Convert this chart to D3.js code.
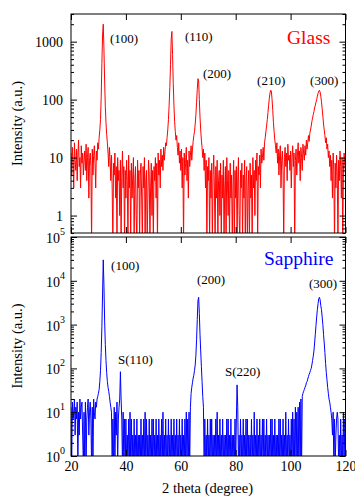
<!DOCTYPE html>
<html><head><meta charset="utf-8">
<script src="https://cdn.jsdelivr.net/npm/d3@7"></script>
<style>body{margin:0;background:#fff} svg{display:block}</style>
</head><body><svg id="c" width="355" height="497"></svg>
<script>
// ---- data ----
const angleStart = 20, angleStep = 0.25;   // 2-theta sampling grid (degrees)
const glassIntensity = [
 12,5,15,8,3,18,9,6,14,4,11,20,7,10,3,16,8,12,5,9,
 13,6,17,4,10,15,2,9,12,7,0,14,5,11,16,8,3,13,9,18,
 14,22,30,45,110,420,1300,2000,750,210,75,40,25,18,12,7,15,9,4,11,
 3,0,8,5,12,2,7,0,10,4,6,1,9,0,5,13,3,7,0,6,
 2,9,4,0,11,3,6,0,8,2,5,10,0,4,7,1,0,9,3,6,
 0,5,8,2,0,7,3,10,0,4,6,0,2,9,5,0,3,8,1,6,
 0,7,4,10,2,8,0,12,5,9,3,14,7,11,6,15,9,13,18,16,
 22,30,45,80,160,400,1100,1500,600,190,80,42,28,20,24,15,11,18,8,13,
 6,14,3,10,0,12,5,8,15,4,9,2,13,7,11,16,9,14,19,24,
 28,38,55,90,150,230,210,100,50,30,20,15,10,14,6,12,3,9,0,7,
 4,10,0,6,2,8,0,5,11,3,0,7,2,9,0,4,6,1,8,0,
 5,2,9,0,3,7,0,10,4,1,6,0,8,2,5,0,3,9,0,6,
 2,7,0,4,10,1,0,6,3,8,0,5,2,9,0,4,7,0,3,6,
 0,8,2,5,0,10,3,6,1,9,4,12,0,7,5,11,3,14,8,10,
 15,9,18,22,28,35,45,60,80,105,130,145,140,100,65,40,28,20,16,12,
 18,8,14,5,11,16,3,9,13,6,0,10,15,7,12,4,17,9,11,6,
 13,3,10,16,7,12,0,9,14,5,11,18,8,13,4,15,10,6,17,12,
 9,16,11,20,14,18,24,19,26,30,35,42,48,55,62,72,80,90,100,115,
 128,140,145,135,115,92,70,52,38,30,24,18,22,14,17,10,13,7,11,4,
 9,2,12,6,0,8,3,11,5,0,9,4,13,7,2,10,0,6,12,8,
 5];
const sapphireIntensity = [
 13,0,17,7,10,20,3,13,7,17,0,10,3,20,7,13,17,3,0,10,
 0,17,0,7,13,20,3,10,17,7,0,13,0,20,10,7,17,13,20,23,
 27,33,50,90,230,900,5000,30000,8000,1200,350,150,80,50,37,30,23,17,13,10,
 0,7,0,13,0,10,3,17,0,7,13,20,84,20,7,0,10,0,7,0,
 7,0,3,0,7,0,10,0,7,0,3,0,7,0,3,0,7,0,3,0,
 3,0,7,0,3,0,7,0,10,0,7,0,3,0,7,0,3,0,7,0,
 7,0,3,0,7,0,3,0,7,0,3,0,7,0,10,0,3,0,7,0,
 3,0,7,0,3,0,7,0,3,0,7,0,3,0,7,0,3,0,7,0,
 3,0,7,0,3,0,7,0,10,0,7,0,10,0,13,27,37,47,60,70,
 90,120,200,450,1300,3500,4200,1800,600,250,110,50,23,13,0,7,0,3,0,7,
 0,3,0,7,0,7,0,3,0,3,0,7,0,10,0,3,0,7,0,3,
 0,7,0,3,0,3,0,7,0,7,0,3,0,7,0,3,0,3,0,7,
 0,7,42,13,0,3,0,7,0,3,0,7,0,3,0,7,0,7,0,3,
 0,3,0,7,0,3,0,10,0,3,0,7,0,3,0,7,0,3,0,7,
 0,7,0,3,0,7,0,3,0,3,0,7,0,7,0,3,0,7,0,3,
 0,3,0,7,0,7,0,3,0,7,0,3,0,10,0,3,0,7,0,3,
 0,7,0,10,0,7,0,13,0,10,0,13,0,17,0,20,0,23,27,30,
 33,37,40,47,50,57,65,73,80,90,100,120,150,190,250,380,600,950,1500,2200,
 3000,3900,4200,3700,2700,2200,1500,1000,600,380,230,130,80,55,37,27,20,17,13,10,
 7,3,10,0,7,0,3,7,10,7,0,3,0,7,0,3,0,10,0,7,
 3];
const xTicks = [20,40,60,80,100,120];
const glassYTicks = [1,10,100,1000];
const sapphireYTicks = [1,10,100,1000,10000,100000];
const glassPeakLabels = ["(100)","(110)","(200)","(210)","(300)"];
const glassPeakAngles = [34.2,61.5,68.1,87.8,107.1];
const glassPeakHeights = [960,1010,240,179,179];
const sapphirePeakLabels = ["(100)","S(110)","(200)","S(220)","(300)"];
const sapphirePeakAngles = [34.6,37.1,65.9,76.1,106.7];
const sapphirePeakHeights = [17650,126,8300,67,6740];

// ---- drawing ----
const svg = d3.select("#c");
const FONT = "Liberation Serif, Times New Roman, serif";
const L = 71, R = 345.5;
const x = d3.scaleLinear().domain([20,120]).range([L,R]);
const panels = [
  {values: glassIntensity, y: d3.scaleLog().domain([0.5,3000]).range([233,14]), top:14, bottom:233,
   color:"#ff0000", ticks: glassYTicks, pow:false, labels: glassPeakLabels, la: glassPeakAngles, lh: glassPeakHeights,
   name:"Glass", nameAngle: 98.7, nameH: 910, id:"clipG", titleY:123.5, xlabels:false},
  {values: sapphireIntensity, y: d3.scaleLog().domain([1,1e5]).range([456,237]), top:237, bottom:456,
   color:"#0000ff", ticks: sapphireYTicks, pow:true, labels: sapphirePeakLabels, la: sapphirePeakAngles, lh: sapphirePeakHeights,
   name:"Sapphire", nameAngle: 90.3, nameH: 23550, id:"clipS", titleY:346, xlabels:true}
];

panels.forEach(p => {
  const g = svg.append("g");
  g.append("clipPath").attr("id", p.id).append("rect")
    .attr("x", L).attr("y", p.top).attr("width", R-L).attr("height", p.bottom-p.top);
  const line = d3.line()
    .x((d,i) => x(angleStart + i*angleStep))
    .y(d => d > 0 ? p.y(d) : p.bottom + 10);
  g.append("path").datum(p.values).attr("clip-path", `url(#${p.id})`)
    .attr("d", line).attr("fill","none").attr("stroke", p.color).attr("stroke-width", 1)
    .attr("stroke-linejoin","round");

  const minor = p.y.ticks().filter(v => Math.abs(Math.log10(v) - Math.round(Math.log10(v))) > 1e-6);
  g.append("g").attr("transform",`translate(${L},0)`)
    .call(d3.axisLeft(p.y).tickValues(minor).tickSize(-3).tickFormat(""))
    .call(a => a.select(".domain").remove());
  g.append("g").attr("transform",`translate(${R},0)`)
    .call(d3.axisRight(p.y).tickValues(minor).tickSize(-3).tickFormat(""))
    .call(a => a.select(".domain").remove());
  const left = g.append("g").attr("transform",`translate(${L},0)`)
    .call(d3.axisLeft(p.y).tickValues(p.ticks).tickSize(-6).tickPadding(p.pow ? 6 : 8)
      .tickFormat(d => p.pow ? "" : d3.format("d")(d)))
    .call(a => a.select(".domain").remove());
  left.attr("font-family", FONT).attr("font-size", 14);
  left.selectAll(".tick text").attr("fill","#000");
  if (p.pow) {
    left.selectAll(".tick text").each(function(d){
      const t = d3.select(this).attr("dy", null).attr("y", 5.5);
      t.text(null);
      t.append("tspan").text("10");
      t.append("tspan").attr("dy", -8).attr("font-size", 10).text(Math.round(Math.log10(d)));
    });
  }
  g.append("g").attr("transform",`translate(${R},0)`)
    .call(d3.axisRight(p.y).tickValues(p.ticks).tickSize(-6).tickFormat(""))
    .call(a => a.select(".domain").remove());
  g.append("g").attr("transform",`translate(0,${p.top})`)
    .call(d3.axisTop(x).tickValues(xTicks).tickSize(-6).tickFormat(""))
    .call(a => a.select(".domain").remove());
  const bx = g.append("g").attr("transform",`translate(0,${p.bottom})`)
    .call(d3.axisBottom(x).tickValues(xTicks).tickSize(-6).tickPadding(5)
      .tickFormat(p.xlabels ? d3.format("d") : ""))
    .call(a => a.select(".domain").remove());
  bx.attr("font-family", FONT).attr("font-size", 14);
  bx.selectAll(".tick text").attr("fill","#000");

  g.append("rect").attr("x", L).attr("y", p.top).attr("width", R-L).attr("height", p.bottom-p.top)
    .attr("fill","none").attr("stroke","#000").attr("stroke-width",1);

  g.selectAll("text.peak").data(p.labels).enter().append("text").attr("class","peak")
    .attr("x", (d,i) => x(p.la[i])).attr("y", (d,i) => p.y(p.lh[i]))
    .attr("font-family", FONT).attr("font-size", 13).attr("fill","#000").text(d => d);
  g.append("text").attr("x", x(p.nameAngle)).attr("y", p.y(p.nameH))
    .attr("font-family", FONT).attr("font-size", 19.5).attr("fill", p.color).text(p.name);
  g.append("text").attr("transform",`translate(21.5,${p.titleY}) rotate(-90)`)
    .attr("text-anchor","middle").attr("font-family", FONT).attr("font-size", 14.5)
    .attr("fill","#000").text("Intensity (a.u.)");
});

svg.append("text").attr("x", 207.5).attr("y", 493).attr("text-anchor","middle")
  .attr("font-family", FONT).attr("font-size", 14.5).attr("fill","#000").text("2 theta (degree)");
</script>
</body></html>
